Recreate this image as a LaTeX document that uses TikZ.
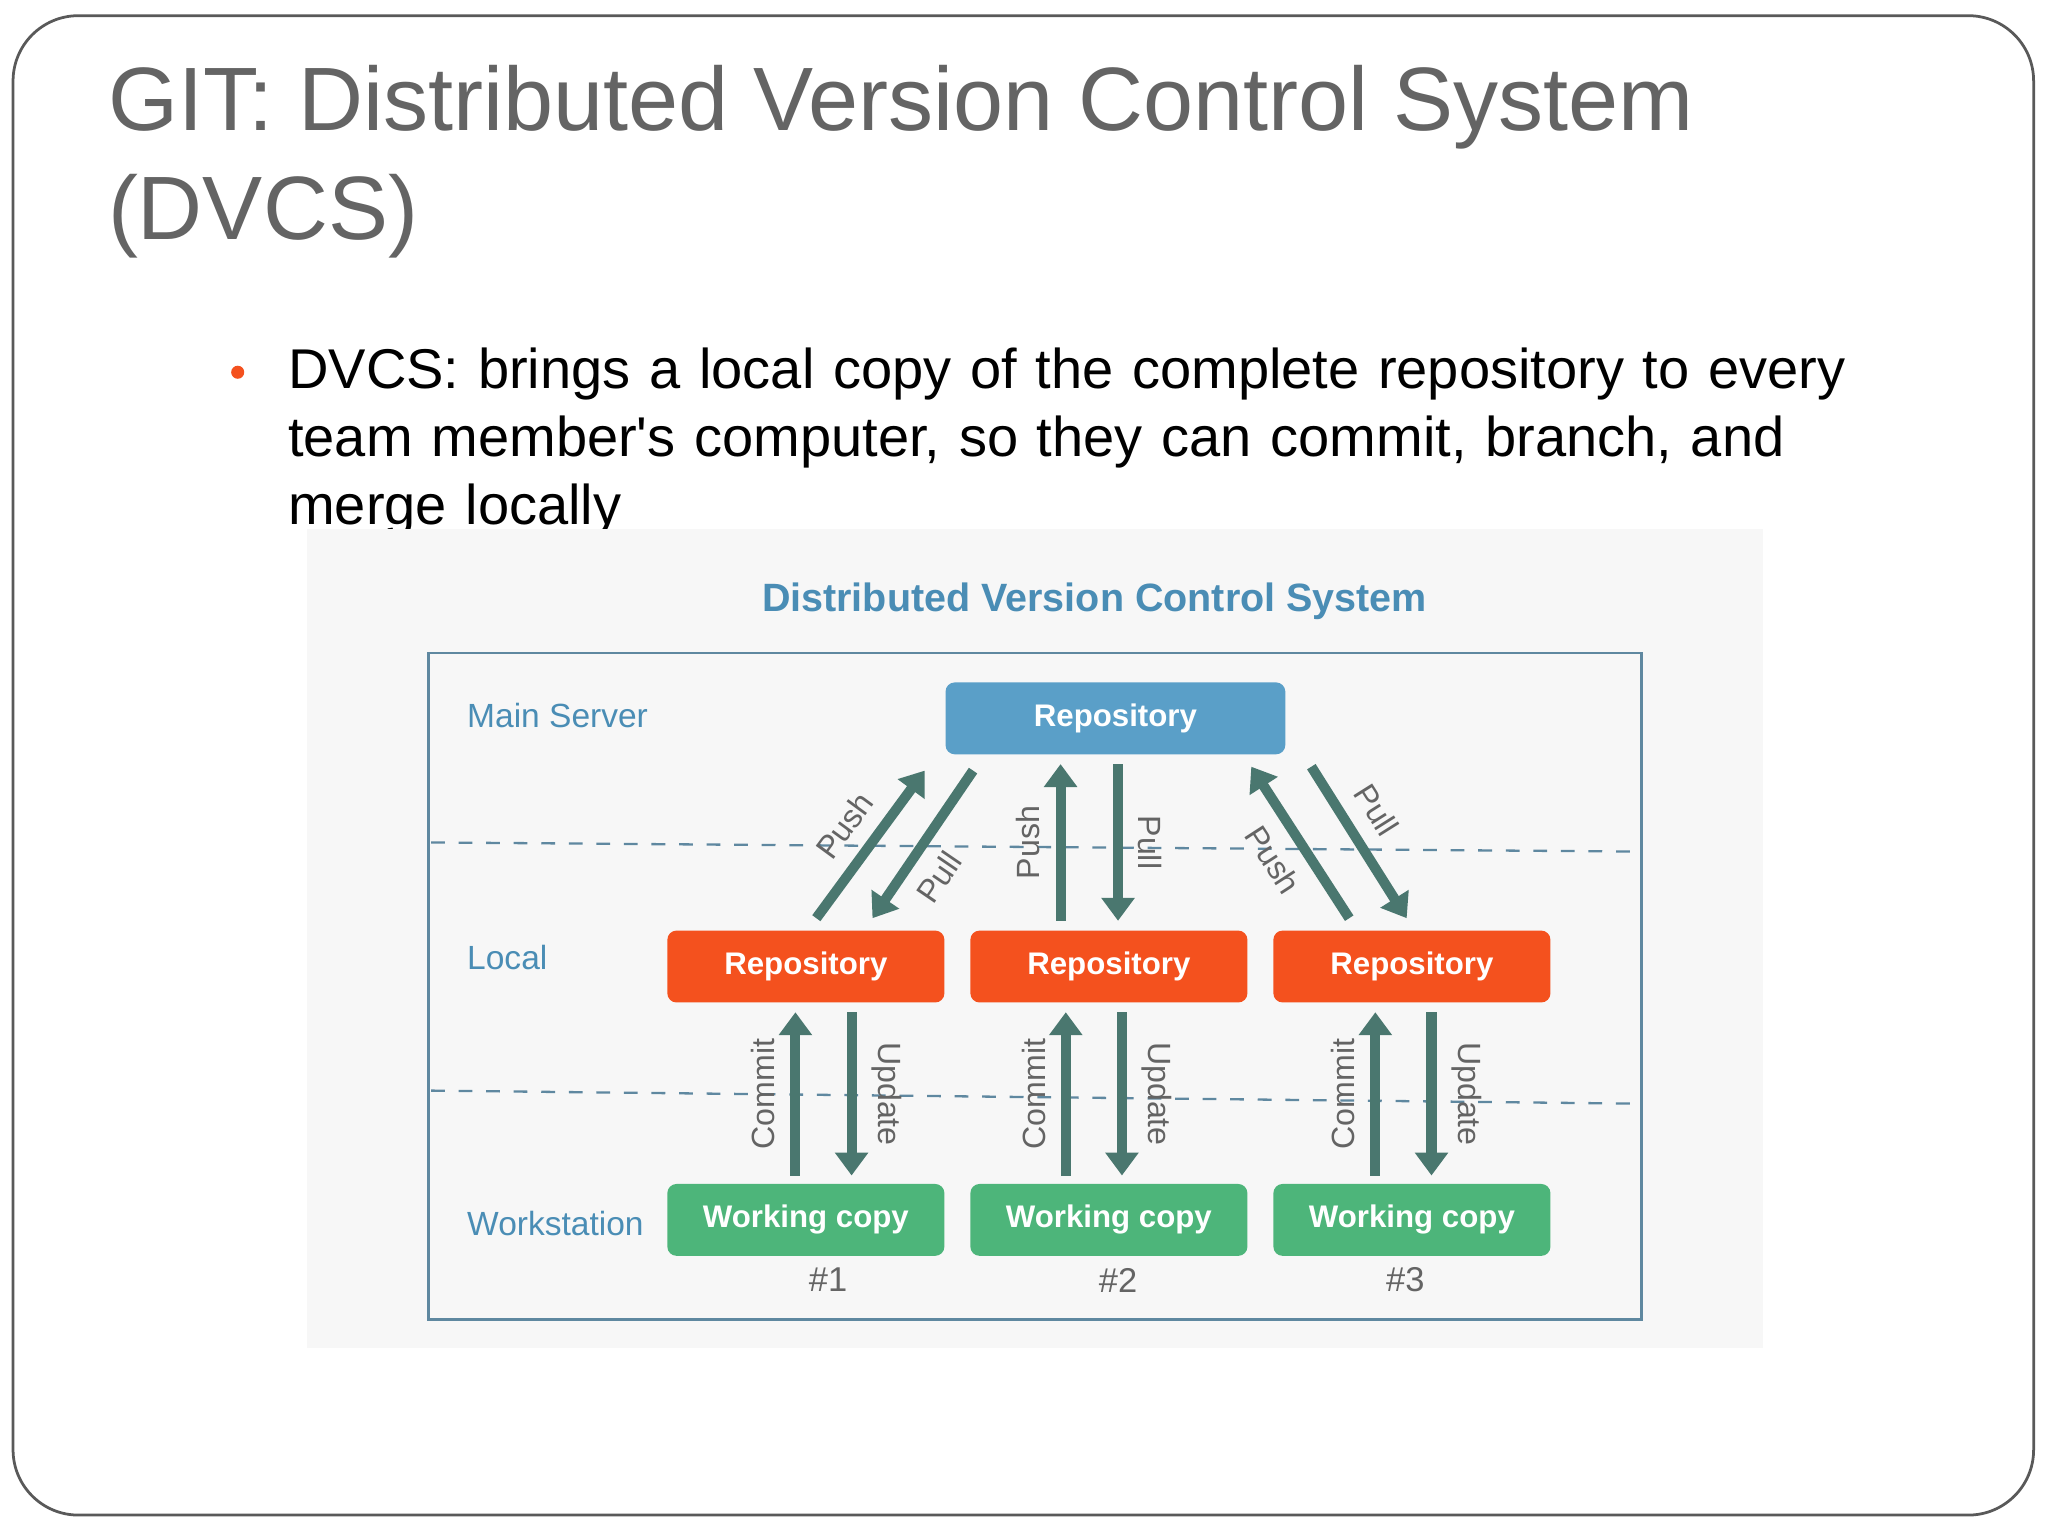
\documentclass[tikz,border=0pt]{standalone}
\usepackage{fontspec}
\setmainfont{Liberation Sans}
\usetikzlibrary{positioning,arrows.meta}
\definecolor{slidegray}{HTML}{646464}
\definecolor{dvblue}{HTML}{4A8DB5}
\definecolor{srvblue}{HTML}{5A9FC8}
\definecolor{locorange}{HTML}{F4511E}
\definecolor{wcgreen}{HTML}{4DB57A}
\definecolor{arrteal}{HTML}{4A776F}
\tikzset{
    box/.style={
           rounded corners=2pt,
           minimum width=2.12cm, minimum height=0.55cm,
           text=white, font=\fontsize{6.8}{8}\selectfont\bfseries,
           },
}
\tikzset{
    flow/.style={
           draw=arrteal, line width=2.2pt,
           -{Triangle[length=5pt,width=7pt]},
           },
    tag/.style={text=slidegray, font=\fontsize{7}{8}\selectfont},
    level/.style={text=dvblue, font=\fontsize{7.3}{9}\selectfont, anchor=west, inner sep=0},
}
\begin{document}
\begin{tikzpicture}[x=0.01cm,y=-0.01cm]
\useasboundingbox (0,0) rectangle (1568,1176);
\fill[white] (0,0) rectangle (1568,1176);
\draw[gray!70!black,line width=0.6pt,rounded corners=0.5cm] (10,12) rectangle (1557,1160);
% slide text
\node[anchor=base west,text=slidegray,font=\fontsize{19.6}{24}\selectfont,inner sep=0] (title) at (82,100) {GIT: Distributed Version Control System};
\node[anchor=base west,text=slidegray,font=\fontsize{19.6}{24}\selectfont,inner sep=0] (title2) at (82,183) {(DVCS)};
\fill[locorange] (182,285) circle (5);
\node[anchor=north west,text=black,font=\fontsize{12.2}{14.8}\selectfont,inner sep=0,text width=12.5cm,align=left] (bullet) at (220,266) {DVCS: brings a local copy of the complete repository to every team member\textquotesingle s computer, so they can commit, branch, and merge locally};
% picture panel
\fill[gray!6] (235,405) rectangle (1350,1032);
\node[text=dvblue,font=\fontsize{8.6}{10}\selectfont\bfseries] (dtitle) at (838,460) {Distributed Version Control System};
\draw[dvblue!60!gray,line width=0.6pt] (328,500) rectangle (1257,1010);
\draw[dvblue!60!gray,dashed,line width=0.5pt] (330,645) -- (1255,652);
\draw[dvblue!60!gray,dashed,line width=0.5pt] (330,835) -- (1255,845);
\node[level] (lmain) at (357,548) {Main Server};
\node[level] (lloc) at (357,733) {Local};
\node[level] (lws) at (357,937) {Workstation};
% boxes
\node[box,fill=srvblue,minimum width=2.6cm] (srv) at (854,550) {Repository};
\node[box,fill=locorange] (loc1) at (617,740) {Repository};
\node[box,fill=locorange] (loc2) at (849,740) {Repository};
\node[box,fill=locorange] (loc3) at (1081,740) {Repository};
\node[box,fill=wcgreen] (wc1) at (617,934) {Working copy};
\node[box,fill=wcgreen] (wc2) at (849,934) {Working copy};
\node[box,fill=wcgreen] (wc3) at (1081,934) {Working copy};
\node[tag,font=\fontsize{7.5}{9}\selectfont] (n1) at (634,980) {\#1};
\node[tag,font=\fontsize{7.5}{9}\selectfont] (n2) at (856,980) {\#2};
\node[tag,font=\fontsize{7.5}{9}\selectfont] (n3) at (1076,980) {\#3};
% push / pull
\coordinate (ps1a) at (625,703); \coordinate (ps1b) at (708,590);
\coordinate (pl1a) at (745,590); \coordinate (pl1b) at (668,703);
\coordinate (ps2a) at (812,705); \coordinate (ps2b) at (812,585);
\coordinate (pl2a) at (856,585); \coordinate (pl2b) at (856,705);
\coordinate (ps3a) at (1033,703); \coordinate (ps3b) at (958,587);
\coordinate (pl3a) at (1004,587); \coordinate (pl3b) at (1077,703);
\draw[flow] (ps1a) -- node[tag,sloped,above] {Push} (ps1b);
\draw[flow] (pl1a) -- node[tag,sloped,below,pos=0.6] {Pull} (pl1b);
\draw[flow] (ps2a) -- node[tag,sloped,above] {Push} (ps2b);
\draw[flow] (pl2a) -- node[tag,sloped,above] {Pull} (pl2b);
\draw[flow] (ps3a) -- node[tag,sloped,below] {Push} (ps3b);
\draw[flow] (pl3a) -- node[tag,sloped,above,pos=0.4] {Pull} (pl3b);
% commit / update
\foreach \i/\x in {1/609,2/816,3/1053} {
  \coordinate (cm\i a) at (\x,900); \coordinate (cm\i b) at (\x,775);
  \coordinate (up\i a) at (\x+43,775); \coordinate (up\i b) at (\x+43,900);
  \draw[flow] (cm\i a) -- node[tag,sloped,above] {Commit} (cm\i b);
  \draw[flow] (up\i a) -- node[tag,sloped,above] {Update} (up\i b);
}
\end{tikzpicture}
\end{document}
